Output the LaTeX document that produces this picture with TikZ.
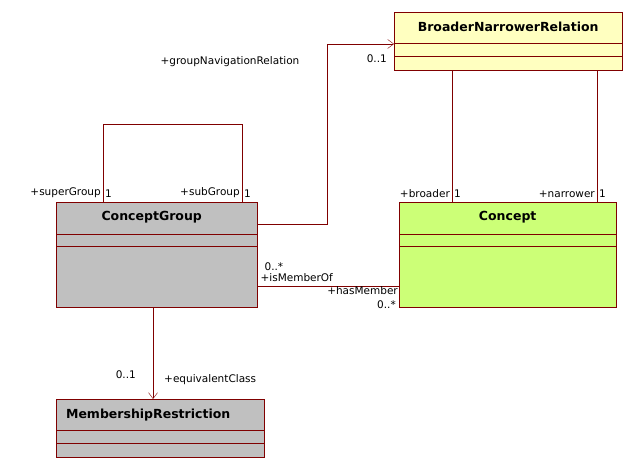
\documentclass[tikz,border=0pt]{standalone}
\usepackage{fontspec}
\setmainfont{DejaVu Sans}
\usetikzlibrary{positioning,arrows.meta}
\definecolor{umlred}{RGB}{128,0,0}
\definecolor{umlgrey}{RGB}{192,192,192}
\definecolor{umlyellow}{RGB}{255,255,192}
\definecolor{umlgreen}{RGB}{204,255,119}
\tikzset{
    uml-class/.style = {draw=umlred, rectangle, anchor=north west, inner sep=0pt},
    uml-title/.style = {font=\bfseries\fontsize{12.5}{14}\selectfont, anchor=north},
    uml-label/.style = {font=\fontsize{10.5}{12}\selectfont, inner sep=1pt},
    uml-line/.style = {draw=umlred, thin},
}
\newcommand{\umlclass}[8]{% name, x, y, w, h, fill, title, title-offset
    \node[uml-class, fill=#6, minimum width=#4pt, minimum height=#5pt] (#1) at (#2,#3) {};
    \node[uml-title] (#1-title) at ([xshift=#8pt,yshift=-6pt]#1.north) {#7};
}
\begin{document}
\begin{tikzpicture}[x=1pt,y=-1pt]
\useasboundingbox (0,0) rectangle (638,473);
% classes
\umlclass{bnr}{394}{12}{228}{58}{umlyellow}{BroaderNarrowerRelation}{0}
\draw[uml-line] (394,43) -- (622,43) (394,56) -- (622,56);
\umlclass{group}{56}{202}{201}{105}{umlgrey}{ConceptGroup}{-5}
\draw[uml-line] (56,234) -- (257,234) (56,246) -- (257,246);
\umlclass{concept}{399}{202}{217}{105}{umlgreen}{Concept}{0}
\draw[uml-line] (399,234) -- (616,234) (399,246) -- (616,246);
\umlclass{restriction}{56}{399}{208}{58}{umlgrey}{MembershipRestriction}{-12}
\draw[uml-line] (56,430) -- (264,430) (56,443) -- (264,443);
% self association
\coordinate (loop-a) at (103,124);
\coordinate (loop-b) at (242,124);
\draw[uml-line] (group.north -| loop-a) -- (loop-a) -- (loop-b) -- (group.north -| loop-b);
\node[uml-label, anchor=south east] at ([xshift=-1pt,yshift=3pt]group.north -| loop-a) {+superGroup};
\node[uml-label, anchor=south west] at ([xshift=1pt,yshift=3pt]group.north -| loop-a) {1};
\node[uml-label, anchor=south east] at ([xshift=-1pt,yshift=3pt]group.north -| loop-b) {+subGroup};
\node[uml-label, anchor=south west] at ([xshift=1pt,yshift=3pt]group.north -| loop-b) {1};
% navigation to relation
\coordinate (nav-a) at (327,224);
\coordinate (nav-b) at (327,44);
\draw[uml-line, ->, >={Straight Barb[length=6pt,width=9pt]}] (group.east |- nav-a) -- (nav-a) -- (nav-b) -- (bnr.west |- nav-b);
\node[uml-label, anchor=south] at (230,68) {+groupNavigationRelation};
\node[uml-label, anchor=north east] at ([xshift=-6pt,yshift=-10pt]bnr.west |- nav-b) {0..1};
% broader / narrower
\coordinate (br) at (452,0);
\coordinate (nr) at (597,0);
\draw[uml-line] (bnr.south -| br) -- (concept.north -| br);
\draw[uml-line] (bnr.south -| nr) -- (concept.north -| nr);
\node[uml-label, anchor=south east] at ([xshift=-1pt,yshift=3pt]concept.north -| br) {+broader};
\node[uml-label, anchor=south west] at ([xshift=1pt,yshift=3pt]concept.north -| br) {1};
\node[uml-label, anchor=south east] at ([xshift=-1pt,yshift=3pt]concept.north -| nr) {+narrower};
\node[uml-label, anchor=south west] at ([xshift=1pt,yshift=3pt]concept.north -| nr) {1};
% membership
\coordinate (mem) at (0,286);
\draw[uml-line] (group.east |- mem) -- (concept.west |- mem);
\node[uml-label, anchor=south west] at ([xshift=2pt,yshift=3pt]group.east |- mem) {+isMemberOf};
\node[uml-label, anchor=south west] at ([xshift=6pt,yshift=14pt]group.east |- mem) {0..*};
\node[uml-label, anchor=north east] at ([yshift=1pt]concept.west |- mem) {+hasMember};
\node[uml-label, anchor=north east] at ([xshift=-2pt,yshift=-14pt]concept.west |- mem) {0..*};
% equivalent class
\coordinate (eq) at (153,0);
\draw[uml-line, ->, >={Straight Barb[length=6pt,width=9pt]}] (group.south -| eq) -- (restriction.north -| eq);
\node[uml-label, anchor=west] at ([xshift=10pt,yshift=19pt]restriction.north -| eq) {+equivalentClass};
\node[uml-label, anchor=east] at ([xshift=-16pt,yshift=24pt]restriction.north -| eq) {0..1};
\end{tikzpicture}
\end{document}
